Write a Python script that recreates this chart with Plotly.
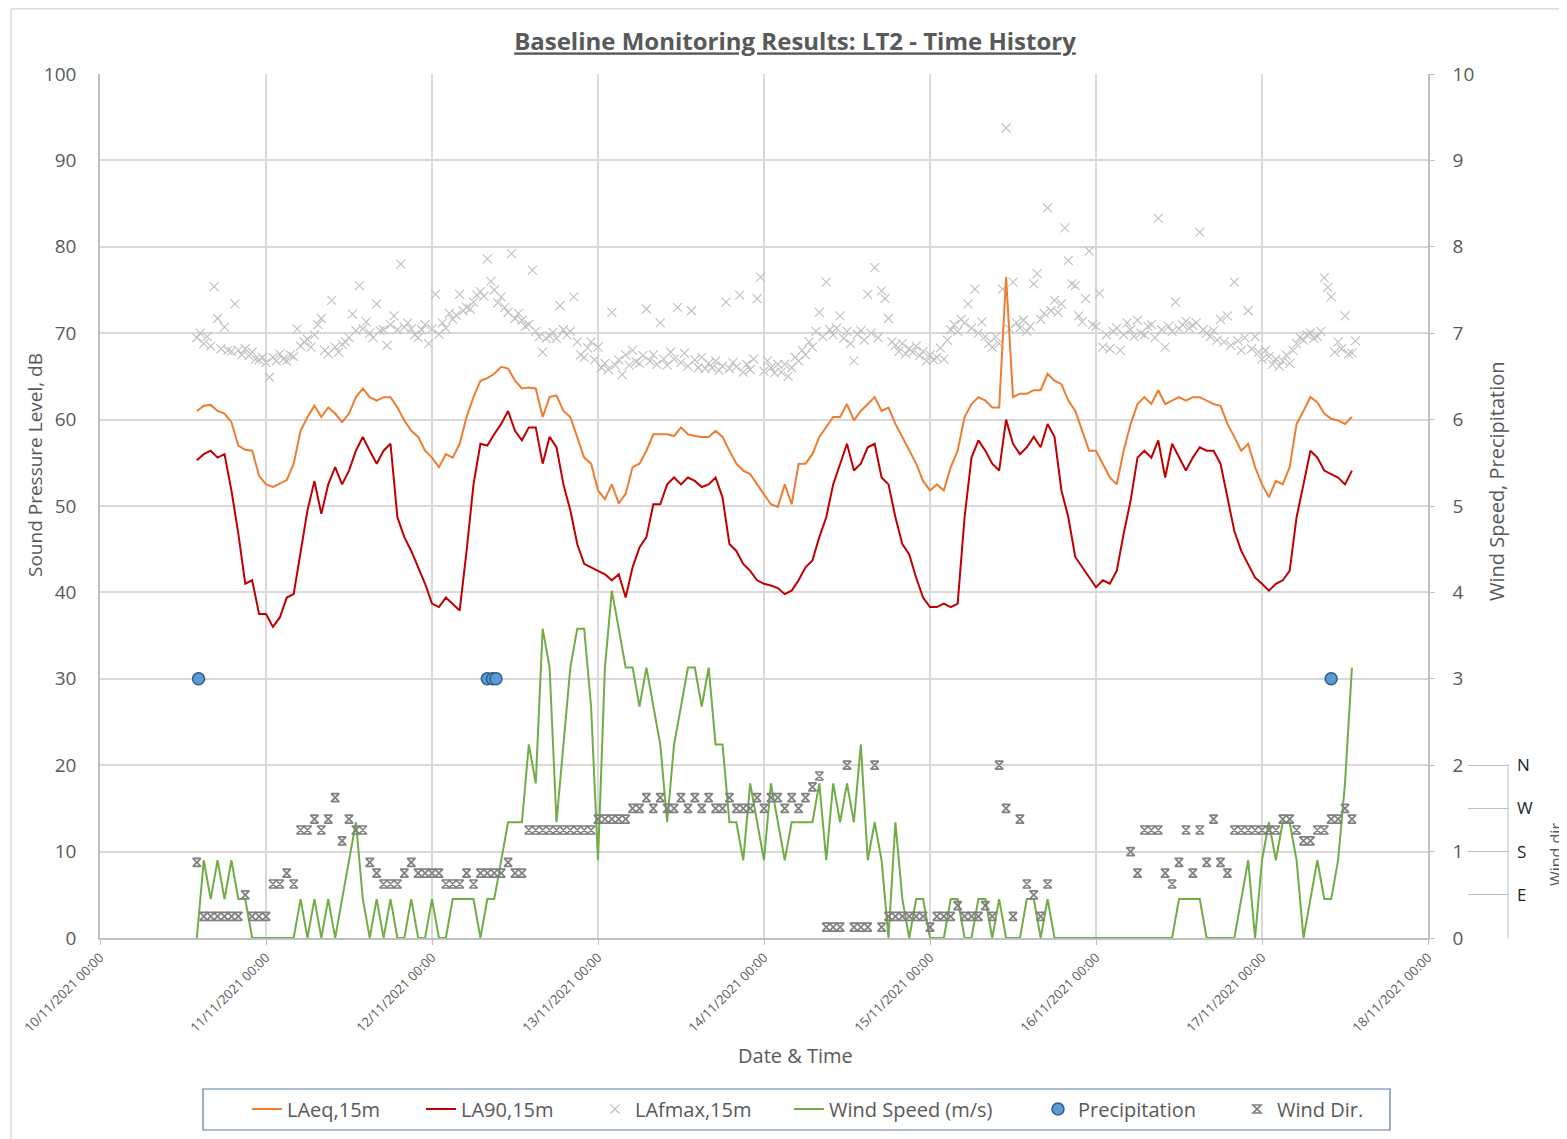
import pandas as pd
import plotly.graph_objects as go

# ---------------- data ----------------
# Hourly values starting 10/11/2021 14:00
laeq = [
    # 10/11 14:00-23:00
    61.0, 61.6, 61.7, 61.0, 60.7, 59.7, 57.0, 56.5, 56.4, 53.5,
    # 11/11
    52.5, 52.2, 52.6, 53.0, 54.9, 58.7, 60.3, 61.6, 60.3, 61.4, 60.7, 59.7,
    60.7, 62.6, 63.6, 62.6, 62.2, 62.6, 62.6, 61.4, 59.9, 58.7, 58.0, 56.4,
    # 12/11
    55.6, 54.5, 56.0, 55.6, 57.2, 60.3, 62.6, 64.5, 64.8, 65.3, 66.1, 65.9,
    64.5, 63.6, 63.7, 63.6, 60.3, 62.6, 62.8, 61.0, 60.3, 58.0, 55.6, 54.9,
    # 13/11
    51.8, 50.8, 52.5, 50.3, 51.4, 54.5, 54.9, 56.4, 58.3, 58.3, 58.3, 58.1,
    59.1, 58.3, 58.1, 58.0, 58.0, 58.7, 58.0, 56.4, 54.9, 54.1, 53.7, 52.5,
    # 14/11
    51.4, 50.2, 49.9, 52.5, 50.2, 54.9, 54.9, 56.0, 58.0, 59.1, 60.3, 60.3,
    61.8, 59.9, 61.0, 61.8, 62.6, 61.0, 61.4, 59.5, 58.0, 56.4, 54.9, 52.9,
    # 15/11
    51.8, 52.5, 51.8, 54.5, 56.4, 60.3, 61.8, 62.6, 62.2, 61.4, 61.4, 76.5,
    62.6, 63.0, 63.0, 63.4, 63.4, 65.3, 64.5, 64.1, 62.2, 61.0, 58.7, 56.4,
    # 16/11
    56.4, 54.9, 53.3, 52.5, 56.4, 59.5, 61.8, 62.6, 61.8, 63.4, 61.8, 62.2,
    62.6, 62.2, 62.6, 62.6, 62.2, 61.8, 61.6, 59.5, 58.0, 56.4, 57.2, 54.5,
    # 17/11 00:00-13:00
    52.5, 51.0, 52.9, 52.5, 54.5, 59.5, 61.0, 62.6, 62.0, 60.7, 60.1, 59.9,
    59.5, 60.3,
]

la90 = [
    # 10/11 14:00-23:00
    55.3, 56.0, 56.4, 55.6, 56.0, 51.8, 46.8, 41.0, 41.4, 37.5,
    # 11/11
    37.5, 36.0, 37.1, 39.4, 39.8, 44.8, 49.5, 52.9, 49.1, 52.5, 54.5, 52.5,
    54.1, 56.4, 58.0, 56.4, 54.9, 56.4, 57.2, 48.7, 46.4, 44.8, 42.9, 41.0,
    # 12/11
    38.7, 38.3, 39.4, 38.7, 37.9, 44.8, 52.5, 57.2, 57.0, 58.3, 59.5, 61.0,
    58.7, 57.6, 59.1, 59.1, 54.9, 58.0, 56.8, 52.5, 49.5, 45.6, 43.3, 42.9,
    # 13/11
    42.5, 42.1, 41.4, 42.1, 39.4, 42.9, 45.2, 46.4, 50.2, 50.2, 52.5, 53.3,
    52.5, 53.3, 52.9, 52.2, 52.5, 53.3, 51.0, 45.6, 44.8, 43.3, 42.5, 41.4,
    # 14/11
    41.0, 40.8, 40.5, 39.8, 40.2, 41.4, 42.9, 43.7, 46.4, 48.7, 52.5, 54.9,
    57.2, 54.1, 54.9, 56.8, 57.2, 53.3, 52.5, 48.7, 45.6, 44.4, 41.7, 39.4,
    # 15/11
    38.3, 38.3, 38.7, 38.3, 38.7, 48.7, 55.6, 57.6, 56.4, 54.9, 54.1, 60.0,
    57.2, 56.0, 56.8, 58.0, 56.8, 59.5, 58.0, 51.8, 48.7, 44.1, 42.9, 41.7,
    # 16/11
    40.6, 41.4, 41.0, 42.5, 46.8, 50.6, 55.6, 56.4, 55.6, 57.6, 53.3, 57.2,
    55.6, 54.1, 55.6, 56.8, 56.4, 56.4, 54.9, 51.0, 47.1, 44.8, 43.3, 41.7,
    # 17/11 00:00-13:00
    41.0, 40.2, 41.0, 41.4, 42.5, 48.7, 52.5, 56.4, 55.6, 54.1, 53.7, 53.3,
    52.5, 54.1,
]

wind_speed = [
    # 10/11 14:00-23:00
    0, 0.9, 0.45, 0.9, 0.45, 0.9, 0.45, 0.45, 0, 0,
    # 11/11
    0, 0, 0, 0, 0, 0.45, 0, 0.45, 0, 0.45, 0, 0.45,
    0.9, 1.34, 0.45, 0, 0.45, 0, 0.45, 0, 0, 0.45, 0, 0,
    # 12/11
    0.45, 0, 0, 0.45, 0.45, 0.45, 0.45, 0, 0.45, 0.45, 0.9, 1.34,
    1.34, 1.34, 2.24, 1.79, 3.58, 3.13, 1.34, 2.24, 3.13, 3.58, 3.58, 2.68,
    # 13/11
    0.9, 3.13, 4.02, 3.58, 3.13, 3.13, 2.68, 3.13, 2.68, 2.24, 1.34, 2.24,
    2.68, 3.13, 3.13, 2.68, 3.13, 2.24, 2.24, 1.34, 1.34, 0.9, 1.79, 1.34,
    # 14/11
    0.9, 1.79, 1.34, 0.9, 1.34, 1.34, 1.34, 1.34, 1.79, 0.9, 1.79, 1.34,
    1.79, 1.34, 2.24, 0.9, 1.34, 0.9, 0, 1.34, 0.45, 0, 0.45, 0.45,
    # 15/11
    0, 0, 0, 0.45, 0.45, 0, 0, 0.45, 0.45, 0, 0.45, 0,
    0, 0, 0.45, 0.45, 0, 0.45, 0, 0, 0, 0, 0, 0,
    # 16/11
    0, 0, 0, 0, 0, 0, 0, 0, 0, 0, 0, 0,
    0.45, 0.45, 0.45, 0.45, 0, 0, 0, 0, 0, 0.45, 0.9, 0,
    # 17/11 00:00-13:00
    0.9, 1.34, 0.9, 1.34, 1.34, 0.9, 0, 0.45, 0.9, 0.45, 0.45, 0.9,
    1.79, 3.13,
]

# wind direction in degrees (None = calm / no reading)
wind_dir = [
    # 10/11 14:00-23:00
    157.5, 45, 45, 45, 45, 45, 45, 90, 45, 45,
    # 11/11
    45, 112.5, 112.5, 135, 112.5, 225, 225, 247.5, 225, 247.5, 292.5, 202.5,
    247.5, 225, 225, 157.5, 135, 112.5, 112.5, 112.5, 135, 157.5, 135, 135,
    # 12/11
    135, 135, 112.5, 112.5, 112.5, 135, 112.5, 135, 135, 135, 135, 157.5,
    135, 135, 225, 225, 225, 225, 225, 225, 225, 225, 225, 225,
    # 13/11
    247.5, 247.5, 247.5, 247.5, 247.5, 270, 270, 292.5, 270, 292.5, 270, 270,
    292.5, 270, 292.5, 270, 292.5, 270, 270, 292.5, 270, 270, 270, 292.5,
    # 14/11
    270, 292.5, 292.5, 270, 292.5, 270, 292.5, 315, 337.5, 22.5, 22.5, 22.5,
    360, 22.5, 22.5, 22.5, 360, 22.5, 45, 45, 45, 45, 45, 45,
    # 15/11
    22.5, 45, 45, 45, 67.5, 45, 45, 45, 67.5, 45, 360, 270,
    45, 247.5, 112.5, 90, 45, 112.5, None, None, None, None, None, None,
    # 16/11
    None, None, None, None, None, 180, 135, 225, 225, 225, 135, 112.5,
    157.5, 225, 135, 225, 157.5, 247.5, 157.5, 135, 225, 225, 225, 225,
    # 17/11 00:00-13:00
    225, 225, 225, 247.5, 247.5, 225, 202.5, 202.5, 225, 225, 247.5, 247.5,
    270, 247.5,
]

# LAfmax every 30 minutes starting 10/11/2021 14:00
lafmax = [
    # 10/11 14:00-23:30
    69.5, 70.0, 68.8, 69.6, 68.5, 75.4, 71.7, 68.2, 70.7, 68.0,
    67.9, 73.4, 68.0, 67.5, 68.2, 67.4, 67.8, 67.0, 66.9, 67.2,
    # 11/11
    66.6, 64.9, 67.2, 66.8, 67.6, 67.0, 66.8, 67.5, 67.3, 70.5, 68.5, 69.0,
    69.3, 68.4, 69.8, 71.0, 71.7, 68.0, 67.6, 73.8, 68.4, 67.8, 68.7, 69.0,
    69.5, 72.2, 70.3, 75.5, 70.5, 71.3, 70.0, 69.5, 73.4, 70.3, 70.4, 68.6,
    71.0, 72.0, 70.4, 78.0, 70.7, 71.2, 70.5, 69.8, 69.5, 70.4, 71.0, 68.8,
    # 12/11
    70.5, 74.5, 69.9, 71.2, 70.6, 72.3, 71.6, 72.1, 74.5, 72.6, 73.0, 72.8,
    73.6, 74.4, 74.8, 74.3, 78.6, 76.0, 75.0, 73.5, 74.2, 73.0, 72.4, 79.2,
    71.7, 72.3, 71.5, 70.8, 71.0, 77.3, 70.2, 69.6, 67.8, 69.4, 69.7, 70.1,
    69.4, 73.2, 70.4, 69.8, 70.2, 74.2, 69.0, 67.5, 67.2, 68.3, 69.0, 66.9,
    # 13/11
    68.4, 66.0, 66.5, 65.8, 72.4, 66.3, 66.9, 65.2, 67.5, 66.3, 68.0, 66.7,
    66.5, 67.4, 72.8, 66.8, 67.5, 66.4, 71.2, 67.0, 66.3, 67.8, 67.0, 73.0,
    66.6, 67.7, 66.2, 72.6, 66.9, 66.0, 67.2, 65.9, 66.5, 66.0, 66.8, 65.7,
    66.2, 73.6, 65.9, 66.6, 66.1, 74.4, 65.5, 66.4, 65.8, 67.0, 74.0, 76.5,
    # 14/11
    65.6, 66.8, 66.0, 65.4, 66.4, 65.5, 66.4, 65.0, 66.0, 67.2, 66.8, 68.0,
    67.5, 69.0, 68.4, 70.2, 72.4, 69.6, 75.9, 70.4, 69.8, 70.6, 72.0, 69.4,
    70.2, 68.8, 66.8, 69.9, 70.3, 69.2, 74.5, 70.0, 77.6, 69.5, 74.9, 74.0,
    71.7, 69.0, 68.6, 67.9, 68.8, 67.6, 68.2, 67.8, 68.5, 67.4, 67.9, 66.8,
    # 15/11
    67.5, 66.9, 67.2, 68.3, 67.0, 69.2, 70.4, 71.0, 70.2, 71.6, 71.2, 73.4,
    70.6, 75.1, 70.0, 71.3, 69.6, 68.8, 68.4, 69.6, 68.8, 75.1, 93.75, 70.5,
    75.9, 71.2, 70.6, 71.5, 70.2, 70.8, 75.7, 76.9, 71.6, 72.3, 84.5, 72.6,
    73.8, 72.4, 73.4, 82.2, 78.4, 75.7, 75.5, 72.0, 71.3, 74.0, 79.5, 71.0,
    # 16/11
    70.8, 74.6, 68.4, 69.8, 68.2, 70.2, 70.6, 68.0, 69.8, 71.2, 70.4, 69.6,
    71.5, 70.0, 69.8, 70.8, 71.0, 69.5, 83.3, 70.4, 68.4, 70.8, 70.2, 73.6,
    70.5, 71.0, 71.4, 70.6, 70.9, 71.2, 81.7, 70.4, 70.0, 69.6, 70.3, 69.2,
    71.6, 69.0, 72.0, 68.6, 75.9, 69.1, 68.0, 69.5, 72.6, 68.2, 69.6, 67.8,
    # 17/11 00:00-13:30
    67.0, 68.0, 67.3, 66.4, 67.0, 66.2, 66.8, 67.5, 66.5, 68.0, 68.8, 69.5,
    69.2, 69.8, 70.0, 69.4, 69.6, 70.2, 76.4, 75.3, 74.2, 67.8, 69.0, 68.2,
    72.0, 67.6, 67.7, 69.1,
]

precip_times = ["2021-11-10 14:15", "2021-11-12 08:00", "2021-11-12 08:45",
                "2021-11-12 09:15", "2021-11-17 10:00"]
precip_vals = [3, 3, 3, 3, 3]

start = "2021-11-10 14:00"
t_hour = pd.date_range(start, periods=len(laeq), freq="h")
t_half = pd.date_range(start, periods=len(lafmax), freq="30min")

# ---------------- layout geometry ----------------
# The page places the figure 8 px in from the top-left corner, so the
# figure is 8 px smaller and every reference pixel position is shifted by 8.
OFF = 8
W, H = 1567 - OFF, 1139 - OFF
ML = 100 - OFF           # plot left
MT = 74 - OFF            # plot top
PR = 1428 - OFF          # plot right
PB = 938 - OFF           # plot bottom
MR = 22
MB = H - PB
PW = W - ML - MR
PH = PB - MT


def px(x):               # page x (reference px) -> paper x
    return (x - OFF - ML) / PW


def py(y):               # page y (reference px) -> paper y
    return (PB - (y - OFF)) / PH


def fy(y):               # figure y (px from figure top) -> paper y
    return (PB - y) / PH


FONT = "Open Sans"
GREY_TXT = "#595959"
GRID = "#D9D9D9"
AXL = "#BFBFBF"

fig = go.Figure()

fig.add_trace(go.Scatter(
    x=t_half, y=lafmax, name="LAfmax,15m", mode="markers",
    marker=dict(symbol="x-thin", size=9, color="#BFBFBF",
                line=dict(width=1.1, color="#BFBFBF")),
    legend="legend3"))
fig.add_trace(go.Scatter(
    x=t_hour, y=laeq, name="LAeq,15m", mode="lines",
    line=dict(color="#ED7D31", width=2), legend="legend"))
fig.add_trace(go.Scatter(
    x=t_hour, y=la90, name="LA90,15m", mode="lines",
    line=dict(color="#C00000", width=2), legend="legend2"))
fig.add_trace(go.Scatter(
    x=t_hour, y=wind_speed, name="Wind Speed (m/s)", mode="lines", yaxis="y2",
    line=dict(color="#70AD47", width=2), legend="legend4"))
fig.add_trace(go.Scatter(
    x=t_hour, y=wind_dir, name="Wind Dir.", mode="markers", yaxis="y3",
    marker=dict(symbol="hourglass-open", size=8, color="#808080",
                line=dict(width=1.7, color="#808080")),
    legend="legend6"))
fig.add_trace(go.Scatter(
    x=pd.to_datetime(precip_times), y=precip_vals, name="Precipitation",
    mode="markers", yaxis="y2",
    marker=dict(symbol="circle", size=12, color="#5B9BD5",
                line=dict(color="#2F5C8A", width=1.5)),
    legend="legend5"))

# one legend per entry so each entry sits where the reference puts it
legend_text_x = [288, 462, 636, 830, 1079, 1278]
legends = {}
for i, tx in enumerate(legend_text_x):
    key = "legend" if i == 0 else f"legend{i + 1}"
    legends[key] = dict(
        orientation="h", x=px(tx - 41), xanchor="left",
        y=py(1109), yanchor="middle", borderwidth=0,
        bgcolor="rgba(0,0,0,0)", font=dict(size=20, color=GREY_TXT))

fig.update_layout(
    width=W, height=H,
    margin=dict(l=ML, r=MR, t=MT, b=MB, autoexpand=False),
    paper_bgcolor="white", plot_bgcolor="white",
    font=dict(family=FONT, color=GREY_TXT, size=19),
    title=dict(
        text="<b><u>Baseline Monitoring Results: LT2 - Time History</u></b>",
        font=dict(family=FONT, size=24, color=GREY_TXT),
        x=(795 - OFF) / W, xref="container", xanchor="center",
        y=1 - (42 - OFF) / H, yref="container", yanchor="middle"),
    xaxis=dict(
        type="date", domain=[0, (PR - ML) / PW],
        range=["2021-11-10 00:00", "2021-11-18 00:00"],
        tick0="2021-11-10", dtick=86400000,
        tickformat="%d/%m/%Y %H:%M", tickangle=-45,
        tickfont=dict(size=13, color=GREY_TXT),
        showgrid=True, gridcolor=GRID, gridwidth=1.5,
        showline=True, linecolor=AXL, linewidth=1.5,
        ticks="outside", ticklen=5, tickcolor=AXL,
        zeroline=False,
    ),
    yaxis=dict(
        range=[0, 100], dtick=10,
        showgrid=True, gridcolor=GRID, gridwidth=1.5,
        showline=True, linecolor=AXL, linewidth=1.5,
        zeroline=False, ticks="", ticklabelstandoff=18,
        tickfont=dict(size=19, color=GREY_TXT),
    ),
    yaxis2=dict(
        overlaying="y", side="right", anchor="x",
        range=[0, 10], dtick=1, showgrid=False, zeroline=False,
        showline=True, linecolor=AXL, linewidth=1.5,
        ticks="outside", ticklen=5, tickcolor=AXL, ticklabelstandoff=14,
        tickfont=dict(size=19, color=GREY_TXT),
    ),
    # wind direction axis: 0-360 deg occupies the lowest fifth of the plot
    yaxis3=dict(
        overlaying="y", anchor="free", position=px(1508),
        side="right", range=[0, 1800],
        tickvals=[0, 90, 180, 270, 360], ticktext=["", "E", "S", "W", "N"],
        ticks="inside", ticklen=40, tickcolor=AXL, tickwidth=1,
        ticklabelstandoff=8,
        showline=False, showgrid=False, zeroline=False,
        tickfont=dict(size=17, color="#262626"),
    ),
    showlegend=True,
    **legends,
)

# axis titles placed where the reference has them
fig.add_annotation(text="Sound Pressure Level, dB", textangle=-90,
                   showarrow=False, xref="paper", yref="paper",
                   x=px(35), y=py(465), xanchor="center", yanchor="middle",
                   font=dict(size=19, color=GREY_TXT))
fig.add_annotation(text="Wind Speed, Precipitation", textangle=-90,
                   showarrow=False, xref="paper", yref="paper",
                   x=px(1497), y=py(481), xanchor="center", yanchor="middle",
                   font=dict(size=20, color=GREY_TXT))
fig.add_annotation(text="Date & Time", showarrow=False,
                   xref="paper", yref="paper",
                   x=px(795), y=py(1055), xanchor="center", yanchor="middle",
                   font=dict(size=20, color=GREY_TXT))
fig.add_annotation(text="Wind dir.", textangle=-90, showarrow=False,
                   xref="paper", yref="paper", x=px(1556), y=py(852),
                   xanchor="center", yanchor="middle",
                   font=dict(size=16, color=GREY_TXT))

# spine of the wind-direction axis (0 to N only)
fig.add_shape(type="line", xref="paper", yref="paper",
              x0=px(1508), x1=px(1508), y0=0, y1=py(764),
              line=dict(color=AXL, width=1))
# legend frame
fig.add_shape(type="rect", xref="paper", yref="paper",
              x0=px(203), x1=px(1390), y0=py(1130), y1=py(1089),
              line=dict(color="#5A7BA5", width=1.2))
# outer chart border (top and left edges visible in the reference)
fig.add_shape(type="line", xref="paper", yref="paper",
              x0=px(11), x1=px(1600), y0=fy(0.75), y1=fy(0.75),
              line=dict(color=GRID, width=1.5), layer="below")
fig.add_shape(type="line", xref="paper", yref="paper",
              x0=px(11), x1=px(11), y0=fy(0.75), y1=fy(H + 20),
              line=dict(color=GRID, width=1.5), layer="below")

fig.write_html("out.html")
